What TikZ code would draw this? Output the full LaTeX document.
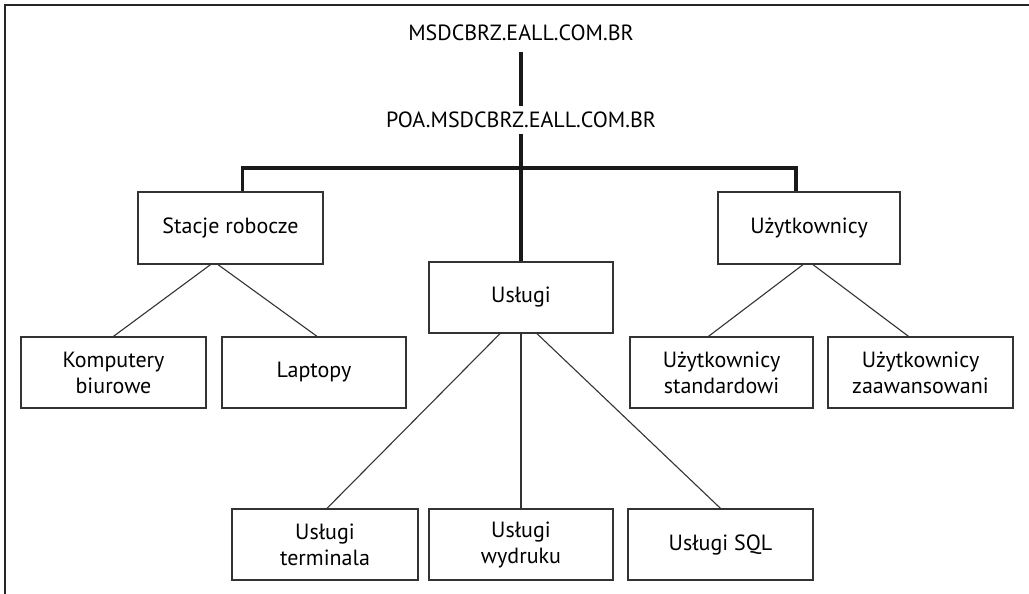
\documentclass[tikz,border=0pt]{standalone}
\usepackage{fontspec}
\setmainfont{PT Sans}
\begin{document}
\begin{tikzpicture}[x=1pt,y=-1pt,
  box/.style={draw=black!80,line width=1.3pt,minimum width=184pt,minimum height=71pt,
    align=center,inner sep=0pt,font=\fontsize{22}{26}\selectfont},
  lbl/.style={font=\fontsize{22}{26}\selectfont,text height=15pt,text depth=0pt,inner xsep=0pt},
  thickln/.style={line width=3.6pt,black!90},
  thinln/.style={line width=1.1pt,black!80},
  frameln/.style={line width=1.8pt,black!85}]
\useasboundingbox (0,0) rectangle (1029,594);
\draw[frameln] (5,594) -- (5,5) -- (1029,5);
\node[lbl,inner ysep=11pt] (top) at (521,33) {MSDCBRZ.EALL.COM.BR};
\node[lbl,inner ysep=6pt] (poa) at (521,120) {POA.MSDCBRZ.EALL.COM.BR};
\node[box,minimum width=185pt,minimum height=72pt] (stacje) at (230.5,228) {Stacje robocze};
\node[box,minimum width=182pt,minimum height=72pt] (uzyt) at (809,228) {Użytkownicy};
\node[box] (uslugi) at (521,297.5) {Usługi};
\node[box,minimum width=185pt] (komp) at (113.5,372.5) {Komputery\\biurowe};
\node[box] (lapt) at (314,372.5) {Laptopy};
\node[box,minimum width=183pt] (std) at (721.5,372.5) {Użytkownicy\\standardowi};
\node[box,minimum width=185pt] (zaaw) at (920.5,372.5) {Użytkownicy\\zaawansowani};
\node[box,minimum width=186pt] (term) at (325,544.5) {Usługi\\terminala};
\node[box] (wydr) at (521,544.5) {Usługi\\wydruku};
\node[box,minimum width=185pt] (sql) at (720.5,544.5) {Usługi SQL};
\coordinate (junc) at (521,168);
\draw[thickln] (top) -- (poa);
\draw[thickln] (poa) -- (uslugi);
\draw[thickln] ([xshift=12pt]stacje.north) |- (junc) -| ([xshift=-13pt]uzyt.north);
\draw[thinln] ([xshift=-20pt]stacje.south) -- (komp.north);
\draw[thinln] ([xshift=-12.5pt]stacje.south) -- ([xshift=3pt]lapt.north);
\draw[thinln] ([xshift=-6pt]uzyt.south) -- ([xshift=-13pt]std.north);
\draw[thinln] ([xshift=4pt]uzyt.south) -- ([xshift=-12pt]zaaw.north);
\draw[thinln] ([xshift=-21pt]uslugi.south) -- ([xshift=2pt]term.north);
\draw[thinln] (uslugi) -- (wydr);
\draw[thinln] ([xshift=16pt]uslugi.south) -- (sql.north);
\end{tikzpicture}
\end{document}
